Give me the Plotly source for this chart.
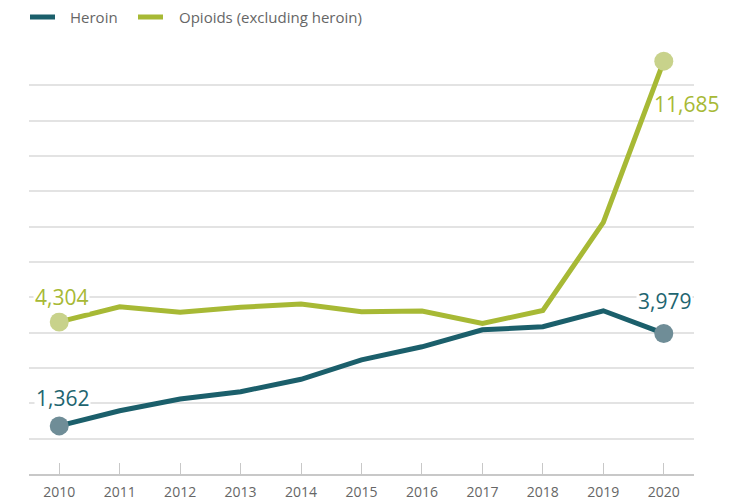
import plotly.graph_objects as go

years = [2010, 2011, 2012, 2013, 2014, 2015, 2016, 2017, 2018, 2019, 2020]
heroin = [1362, 1790, 2120, 2330, 2680, 3230, 3600, 4080, 4170, 4620, 3979]
opioids = [4304, 4730, 4580, 4720, 4810, 4590, 4610, 4260, 4630, 7120, 11685]
series_names = ["Heroin", "Opioids (excluding heroin)"]
tick_labels = [str(y) for y in years]

HEROIN = "#1b5f6b"
HEROIN_MK = "#6f8d97"
OPI = "#a7b935"
OPI_MK = "#c8d28b"

fig = go.Figure()
fig.add_trace(go.Scatter(x=years, y=opioids, mode="lines", name=series_names[1],
                         line=dict(color=OPI, width=5), showlegend=False))
fig.add_trace(go.Scatter(x=years, y=heroin, mode="lines", name=series_names[0],
                         line=dict(color=HEROIN, width=5), showlegend=False))
# endpoint markers
fig.add_trace(go.Scatter(x=[years[0], years[-1]], y=[opioids[0], opioids[-1]], mode="markers",
                         marker=dict(color=OPI_MK, size=19), showlegend=False, hoverinfo="skip"))
fig.add_trace(go.Scatter(x=[years[0], years[-1]], y=[heroin[0], heroin[-1]], mode="markers",
                         marker=dict(color=HEROIN_MK, size=19), showlegend=False, hoverinfo="skip"))

lab_font = "Open Sans, sans-serif"
def fmt(v):
    return f"{v:,}"

ann = [
    dict(x=years[0], y=opioids[0], text=fmt(opioids[0]), color=OPI, xs=2, ys=25, bg="white"),
    dict(x=years[0], y=heroin[0], text=fmt(heroin[0]), color="#1e6570", xs=3, ys=28, bg="white"),
    dict(x=years[-1], y=heroin[-1], text=fmt(heroin[-1]), color="#1e6570", xs=1, ys=32, bg="white"),
    dict(x=years[-1], y=opioids[-1], text=fmt(opioids[-1]), color=OPI, xs=23, ys=-43,
         bg="rgba(0,0,0,0)"),
]
for a in ann:
    fig.add_annotation(x=a["x"], y=a["y"], xref="x", yref="y", text=a["text"], showarrow=False,
                       xshift=a["xs"], yshift=a["ys"], bgcolor=a["bg"], borderpad=1,
                       font=dict(family=lab_font, size=21, color=a["color"]))

# custom legend
leg = [(30, 55, 68, series_names[0], HEROIN), (138, 163, 177, series_names[1], OPI)]
W, L = 665, 29
for x0, x1, xt, name, col in leg:
    fig.add_shape(type="line", xref="paper", yref="paper",
                  x0=(x0 - L) / W, x1=(x1 - L) / W, y0=(474 - 17) / 424, y1=(474 - 17) / 424,
                  line=dict(color=col, width=5))
    fig.add_annotation(xref="paper", yref="paper", x=(xt - L) / W, y=(474 - 17) / 424,
                       xanchor="left", yanchor="middle", showarrow=False, text=name,
                       font=dict(family="Open Sans, sans-serif", size=15, color="#666666"))

fig.update_layout(
    width=739, height=501,
    margin=dict(l=29, r=45, t=50, b=27, autoexpand=False),
    paper_bgcolor="white", plot_bgcolor="white",
    showlegend=False,
)
fig.update_xaxes(range=[2009.5, 2020.5], tickmode="array", tickvals=years, ticktext=tick_labels,
                 ticks="inside", ticklen=11, tickwidth=1.3, tickcolor="#c8c8c8",
                 showgrid=False, showline=True, linecolor="#c8c8c8", linewidth=1.5,
                 tickfont=dict(family="Open Sans, sans-serif", size=14, color="#666666"),
                 ticklabelstandoff=4, zeroline=False, automargin=False)
fig.update_yaxes(range=[0, 12000], dtick=1000, showticklabels=False, showgrid=True,
                 gridcolor="#e3e3e3", gridwidth=1.5, zeroline=False, showline=False,
                 automargin=False)

fig.write_html("out.html")
